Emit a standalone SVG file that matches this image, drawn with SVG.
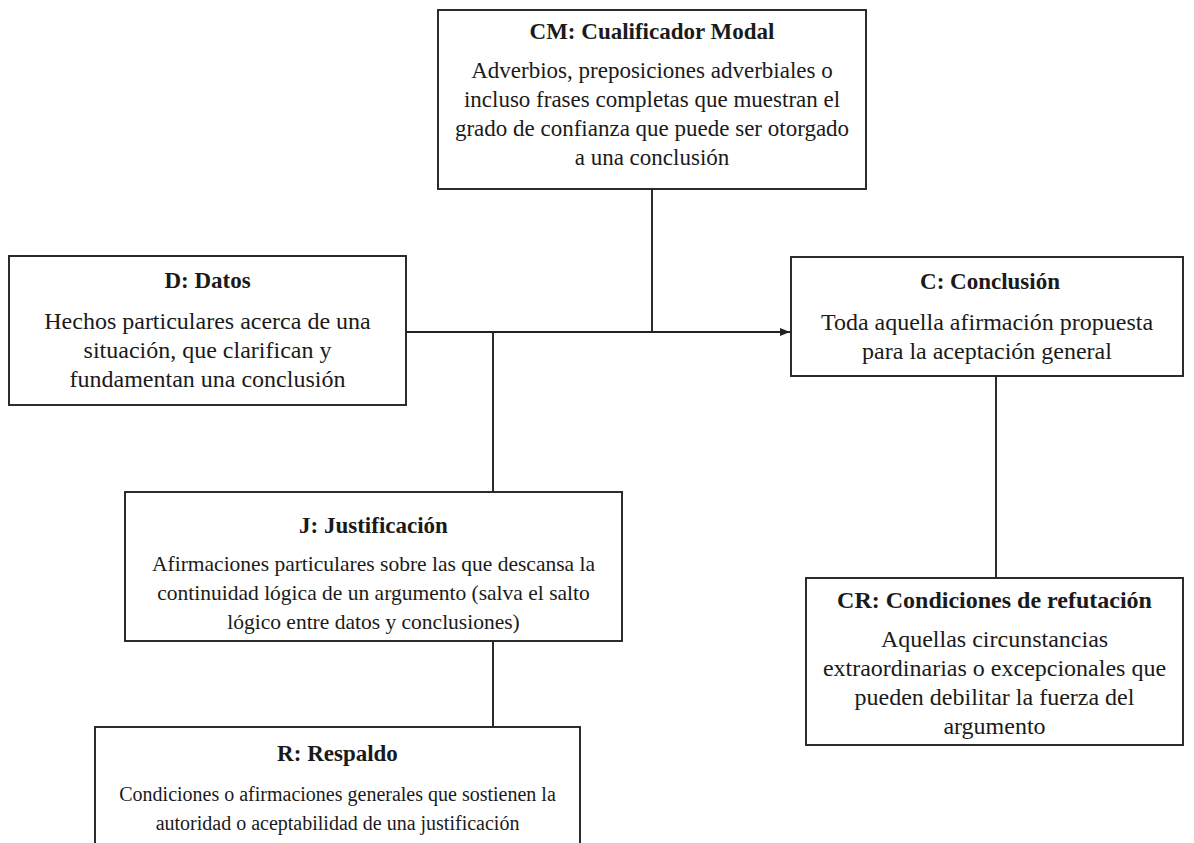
<svg xmlns="http://www.w3.org/2000/svg" width="1194" height="843" viewBox="0 0 1194 843">
<style>
.box{fill:#fff;stroke:#222;stroke-width:1.9}
.t{font-family:"Liberation Serif","Times New Roman",serif;font-size:23px;font-weight:bold;fill:#1a1a1a;text-anchor:middle}
.b{font-family:"Liberation Serif","Times New Roman",serif;font-size:23px;fill:#1a1a1a;text-anchor:middle}
.l{font-size:24px}
.s{font-size:21.5px}
.xs{font-size:20px}
.ln{fill:none;stroke:#222;stroke-width:1.9}
</style>
<defs>
<marker id="arr" markerWidth="10" markerHeight="10" refX="10" refY="5" orient="auto" markerUnits="userSpaceOnUse">
<path d="M0,1 L10,5 L0,9 Z" fill="#222"/>
</marker>
</defs>
<rect width="1194" height="843" fill="#fff"/>
<g id="connectors">
<line class="ln" x1="652" y1="189" x2="652" y2="332"/>
<line class="ln" x1="406" y1="332" x2="790" y2="332" marker-end="url(#arr)"/>
<line class="ln" x1="493" y1="332" x2="493" y2="492"/>
<line class="ln" x1="493" y1="641" x2="493" y2="727"/>
<line class="ln" x1="996" y1="376" x2="996" y2="578"/>
</g>
<g id="CM">
<rect class="box" x="438" y="10" width="428" height="179"/>
<text class="t" x="652" y="39">CM: Cualificador Modal</text>
<text class="b" x="652" y="78">Adverbios, preposiciones adverbiales o</text>
<text class="b" x="652" y="107">incluso frases completas que muestran el</text>
<text class="b" x="652" y="136">grado de confianza que puede ser otorgado</text>
<text class="b" x="652" y="165">a una conclusión</text>
</g>
<g id="D">
<rect class="box" x="9" y="256" width="397" height="149"/>
<text class="t" x="207.5" y="288">D: Datos</text>
<text class="b l" x="207.5" y="329">Hechos particulares acerca de una</text>
<text class="b l" x="207.5" y="358">situación, que clarifican y</text>
<text class="b l" x="207.5" y="387">fundamentan una conclusión</text>
</g>
<g id="C">
<rect class="box" x="791" y="257" width="392" height="119"/>
<text class="t" x="990" y="289">C: Conclusión</text>
<text class="b l" x="987" y="330">Toda aquella afirmación propuesta</text>
<text class="b l" x="987" y="359">para la aceptación general</text>
</g>
<g id="J">
<rect class="box" x="125" y="492" width="497" height="149"/>
<text class="t" x="373.5" y="533">J: Justificación</text>
<text class="b s" x="373.5" y="571">Afirmaciones particulares sobre las que descansa la</text>
<text class="b s" x="373.5" y="600">continuidad lógica de un argumento (salva el salto</text>
<text class="b s" x="373.5" y="629">lógico entre datos y conclusiones)</text>
</g>
<g id="CR">
<rect class="box" x="806" y="578" width="377" height="167"/>
<text class="t l" x="994.5" y="608">CR: Condiciones de refutación</text>
<text class="b l" x="994.5" y="647">Aquellas circunstancias</text>
<text class="b l" x="994.5" y="676">extraordinarias o excepcionales que</text>
<text class="b l" x="994.5" y="705">pueden debilitar la fuerza del</text>
<text class="b l" x="994.5" y="734">argumento</text>
</g>
<g id="R">
<rect class="box" x="95" y="727" width="485" height="130"/>
<text class="t" x="337.5" y="761">R: Respaldo</text>
<text class="b xs" x="337.5" y="801">Condiciones o afirmaciones generales que sostienen la</text>
<text class="b xs" x="337.5" y="830">autoridad o aceptabilidad de una justificación</text>
</g>
</svg>
